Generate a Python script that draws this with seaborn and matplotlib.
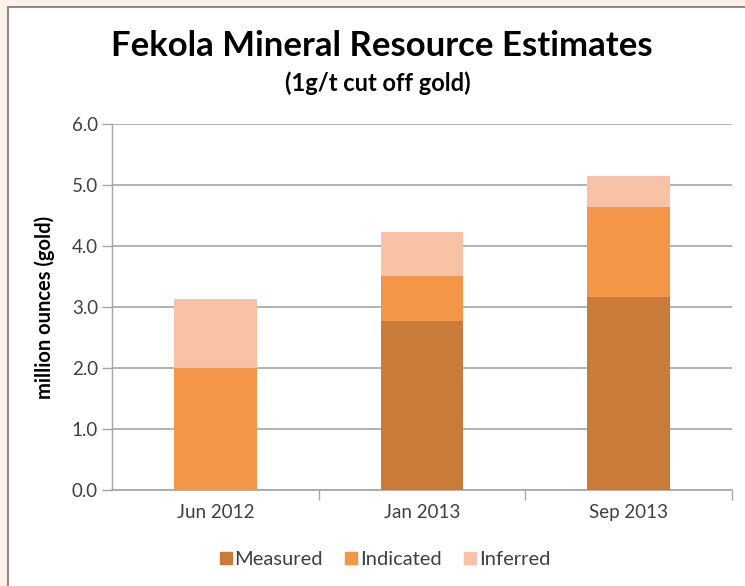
import matplotlib
matplotlib.use("Agg")
import matplotlib.pyplot as plt
import seaborn as sns
import pandas as pd
import numpy as np
from matplotlib.patches import Rectangle
from matplotlib.lines import Line2D

categories = ["Jun 2012", "Jan 2013", "Sep 2013"]
measured = [0.0, 2.77, 3.16]
indicated = [2.0, 0.74, 1.48]
inferred = [1.13, 0.72, 0.51]
series_names = ["Measured", "Indicated", "Inferred"]
colors = ["#c97b3a", "#f39647", "#f8c2a6"]
yticks = [0.0, 1.0, 2.0, 3.0, 4.0, 5.0, 6.0]

sns.set_style("white")
plt.rcParams['font.family'] = ['Lato', 'DejaVu Sans']

fig = plt.figure(figsize=(7.45, 5.86), dpi=100, facecolor="#fdf1ea")
W, H = 745, 586
# inner white panel
fig.patches.append(Rectangle((8 / W, -0.1), 1.2, (586 - 7) / H + 0.1,
                             transform=fig.transFigure, facecolor="white",
                             edgecolor="#8c8c8c", linewidth=1.5, zorder=-10))

ax = fig.add_axes([112 / W, (H - 490) / H, (732 - 112) / W, (490 - 124) / H])
ax.set_facecolor("none")
ax.set_zorder(5)

m = np.array(measured)
mi = m + np.array(indicated)
tot = mi + np.array(inferred)
df = pd.DataFrame({"cat": categories, "m": m, "mi": mi, "tot": tot})

sns.barplot(data=df, x="cat", y="tot", color=colors[2], width=0.4,
            saturation=1, ax=ax, zorder=3, linewidth=0)
sns.barplot(data=df, x="cat", y="mi", color=colors[1], width=0.4,
            saturation=1, ax=ax, zorder=3, linewidth=0)
sns.barplot(data=df, x="cat", y="m", color=colors[0], width=0.4,
            saturation=1, ax=ax, zorder=3, linewidth=0)

ax.set_ylim(0, 6)
ax.set_xlim(-0.5, 2.5)
ax.set_yticks(yticks)
ax.set_yticklabels([f"{v:.1f}" for v in yticks], fontsize=13.5, color="#404040")
ax.yaxis.grid(True, color="#a6a6a6", linewidth=1.2, zorder=1)
ax.set_axisbelow(True)
ax.tick_params(axis="y", length=7, width=1, color="#a6a6a6", pad=3, left=True)
ax.tick_params(axis="x", which="major", length=0, pad=10, labelsize=13.5,
               labelcolor="#404040")
ax.set_xticks([0.5, 1.5, 2.5], minor=True)
ax.tick_params(axis="x", which="minor", length=7, width=1, color="#a6a6a6",
               bottom=True)
for s in ["top", "right"]:
    ax.spines[s].set_visible(False)
ax.spines["left"].set_color("#a6a6a6")
ax.spines["bottom"].set_color("#a6a6a6")
ax.spines["left"].set_linewidth(1)
ax.spines["bottom"].set_linewidth(1.2)
ax.set_xlabel("")
ax.set_ylabel("million ounces (gold)", fontsize=14.5, fontweight="bold",
              color="black", labelpad=6)
ax.yaxis.set_label_coords(-0.092, 0.5)

fig.text(382 / W, 1 - 46 / H, "Fekola Mineral Resource Estimates",
         ha="center", va="center", fontsize=25, fontweight="bold", color="black")
fig.text(378 / W, 1 - 83 / H, "(1g/t cut off gold)", ha="center", va="center",
         fontsize=17, fontweight="bold", color="black")

handles = [Line2D([], [], marker="s", linestyle="none", markersize=8.5,
                  markerfacecolor=c, markeredgecolor=c) for c in colors]
fig.legend(handles, series_names, loc="center", bbox_to_anchor=(382 / W, 1 - 559 / H),
           ncol=3, frameon=False, fontsize=14.5, handletextpad=-0.15,
           handlelength=1.2, columnspacing=0.8, labelcolor="#404040")

fig.savefig("out.png", dpi=100, facecolor=fig.get_facecolor())
